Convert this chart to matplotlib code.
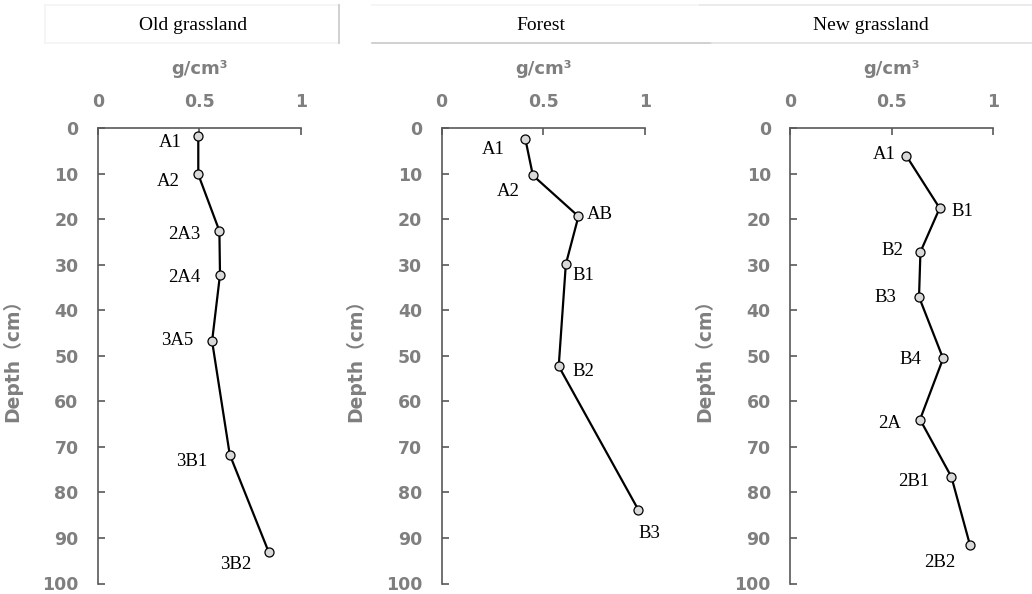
import matplotlib
matplotlib.use("Agg")
import matplotlib.pyplot as plt
from matplotlib.lines import Line2D

plt.rcParams['font.family'] = ['DejaVu Sans', 'Noto Sans CJK JP']

# bulk density (g/cm3) vs depth (cm) for the three sites
titles = ["Old grassland", "Forest", "New grassland"]

old_horizons = ["A1", "A2", "2A3", "2A4", "3A5", "3B1", "3B2"]
old_density = [0.494, 0.494, 0.598, 0.601, 0.562, 0.649, 0.841]
old_depth = [1.7, 10.2, 22.6, 32.2, 46.8, 71.7, 93.1]

forest_horizons = ["A1", "A2", "AB", "B1", "B2", "B3"]
forest_density = [0.412, 0.449, 0.673, 0.611, 0.576, 0.967]
forest_depth = [2.4, 10.4, 19.4, 29.9, 52.3, 83.8]

new_horizons = ["A1", "B1", "B2", "B3", "B4", "2A", "2B1", "2B2"]
new_density = [0.573, 0.738, 0.643, 0.636, 0.755, 0.641, 0.796, 0.888]
new_depth = [6.1, 17.6, 27.2, 37.1, 50.6, 64.0, 76.6, 91.6]

x_ticks = [0, 0.5, 1]
x_tick_labels = ["0", "0.5", "1"]
y_ticks = list(range(0, 101, 10))

# label offsets in pixels (dx, dy down)
old_off = [(-28, 7), (-30, 7), (-35, 4), (-36, 3), (-35, -1), (-38, 7), (-33, 12)]
forest_off = [(-32, 11), (-25, 16), (21, -2), (18, 11), (25, 5), (11, 24)]
new_off = [(-22, -1), (23, 3), (-28, -1), (-34, 1), (-33, 1), (-30, 4), (-38, 5), (-30, 17)]

W, H = 1032, 594
fig = plt.figure(figsize=(W / 100, H / 100), dpi=100)

panels = [
    (old_horizons, old_density, old_depth, old_off, 98, 301),
    (forest_horizons, forest_density, forest_depth, forest_off, 441.5, 645),
    (new_horizons, new_density, new_depth, new_off, 790.3, 992.7),
]
top_px, bot_px = 128, 583.5
grey = '#7f7f7f'
spine_c = '#595959'
serif = ['Liberation Serif', 'DejaVu Serif']

for (hz, dens, dep, offs, x0, x1) in panels:
    ax = fig.add_axes([x0 / W, 1 - bot_px / H, (x1 - x0) / W, (bot_px - top_px) / H])
    ax.plot(dens, dep, color='black', lw=1.6, marker='o', ms=6.5,
            mfc='#d9d9d9', mec='black', mew=0.9, zorder=3)
    for name, xv, yv, (dx, dy) in zip(hz, dens, dep, offs):
        ax.annotate(name, (xv, yv), xytext=(dx, -dy), textcoords='offset pixels',
                    ha='center', va='center', fontsize=13.5, family=serif, color='black')
    ax.set_xlim(0, 1)
    ax.set_ylim(100, 0)
    ax.xaxis.tick_top()
    ax.xaxis.set_label_position('top')
    ax.set_xticks(x_ticks)
    ax.set_xticklabels(x_tick_labels)
    ax.set_yticks(y_ticks)
    for s in ['right', 'bottom']:
        ax.spines[s].set_visible(False)
    for s in ['left', 'top']:
        ax.spines[s].set_color(spine_c)
        ax.spines[s].set_linewidth(1.2)
    ax.tick_params(axis='both', direction='in', length=5, width=1.2, color=spine_c,
                   labelcolor=grey, labelsize=12.5)
    ax.tick_params(axis='x', pad=12)
    ax.tick_params(axis='y', pad=14)
    for lab in ax.get_xticklabels() + ax.get_yticklabels():
        lab.set_fontweight('bold')
    ax.set_xlabel('g/cm³', fontsize=13, fontweight='bold', color=grey, labelpad=14)
    ax.set_ylabel('Depth（cm）', fontsize=13.5, fontweight='bold', color=grey)
    ax.yaxis.set_label_coords(-0.375, 0.5)

# header boxes
def hline(x0, x1, y, c, lw=1.2):
    fig.add_artist(Line2D([x0 / W, x1 / W], [1 - y / H, 1 - y / H], color=c, lw=lw))

def vline(x, y0, y1, c, lw=1.2):
    fig.add_artist(Line2D([x / W, x / W], [1 - y0 / H, 1 - y1 / H], color=c, lw=lw))

hline(45, 339, 5, '#f3f3f3')
hline(45, 339, 43, '#f3f3f3')
vline(45, 5, 43, '#f3f3f3')
vline(339, 5, 43, '#c8c8c8')
hline(372, 700, 5, '#f3f3f3')
hline(700, 1032, 5, '#e8e8e8')
hline(372, 711, 43, '#c8c8c8')
hline(711, 1032, 43, '#e0e0e0')

for t, cx in zip(titles, [193, 541, 871]):
    fig.text(cx / W, 1 - 25 / H, t, ha='center', va='center', fontsize=14, family=serif)

fig.savefig('out.png', dpi=100)
